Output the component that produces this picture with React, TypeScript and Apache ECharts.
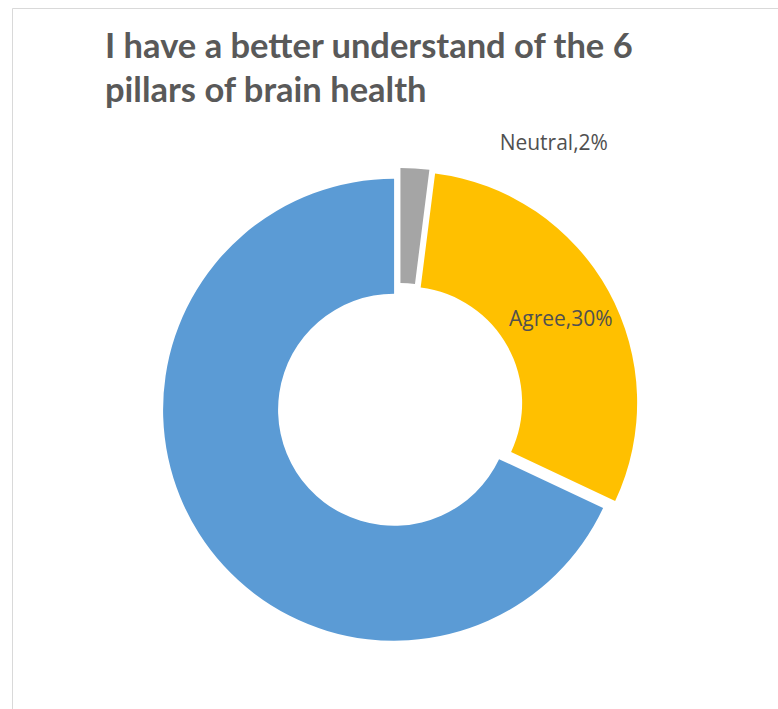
import React, { useEffect, useRef } from "react";
import * as echarts from "echarts";

const titleLines = ["I have a better understand of the 6", "pillars of brain health"];
const categories = ["Neutral", "Agree", "Strongly Agree"];
const values = [2, 30, 68];
const colors = ["#A5A5A5", "#FFC000", "#5B9BD5"];
const showLabel = [true, true, false];

export default function App() {
  const ref = useRef<HTMLDivElement>(null);
  useEffect(() => {
    if (!ref.current) return;
    const chart = echarts.init(ref.current, null, { renderer: "svg" });
    const data = categories.map((c, i) => ({
      name: c,
      value: values[i],
      selected: true,
      itemStyle: { color: colors[i] },
      label: i === 0
        ? { show: showLabel[i], position: "outside", alignTo: "none" }
        : { show: showLabel[i], position: "inside", offset: [-10, 5] },
      labelLine: i === 0 ? { show: false, length: 27, length2: 78 } : { show: false },
    }));
    chart.setOption({
      animation: false,
      backgroundColor: "#ffffff",
      title: {
        text: titleLines.join("\n"),
        left: 100,
        top: 17,
        textStyle: {
          fontFamily: "Lato",
          fontWeight: "bold",
          fontSize: 34.5,
          lineHeight: 44,
          color: "#595959",
        },
      },
      graphic: [
        { type: "line", shape: { x1: 12.5, y1: 8.5, x2: 778, y2: 8.5 }, style: { stroke: "#d9d9d9", lineWidth: 1 } },
        { type: "line", shape: { x1: 12.5, y1: 8.5, x2: 12.5, y2: 709 }, style: { stroke: "#d9d9d9", lineWidth: 1 } },
      ],
      series: [
        {
          type: "pie",
          center: [400, 406],
          radius: [116, 231],
          startAngle: 90,
          clockwise: true,
          selectedMode: "multiple",
          selectedOffset: 7,
          avoidLabelOverlap: false,
          data,
          label: {
            formatter: (p: any) => `${p.name},${p.value}%`,
            fontFamily: "Open Sans",
            fontSize: 21,
            color: "#505050",
          },
          emphasis: { disabled: true },
        },
      ],
    });
    return () => chart.dispose();
  }, []);
  return (
    <div
      ref={ref}
      style={{ position: "fixed", left: 0, top: 0, width: 778, height: 709 }}
    />
  );
}
